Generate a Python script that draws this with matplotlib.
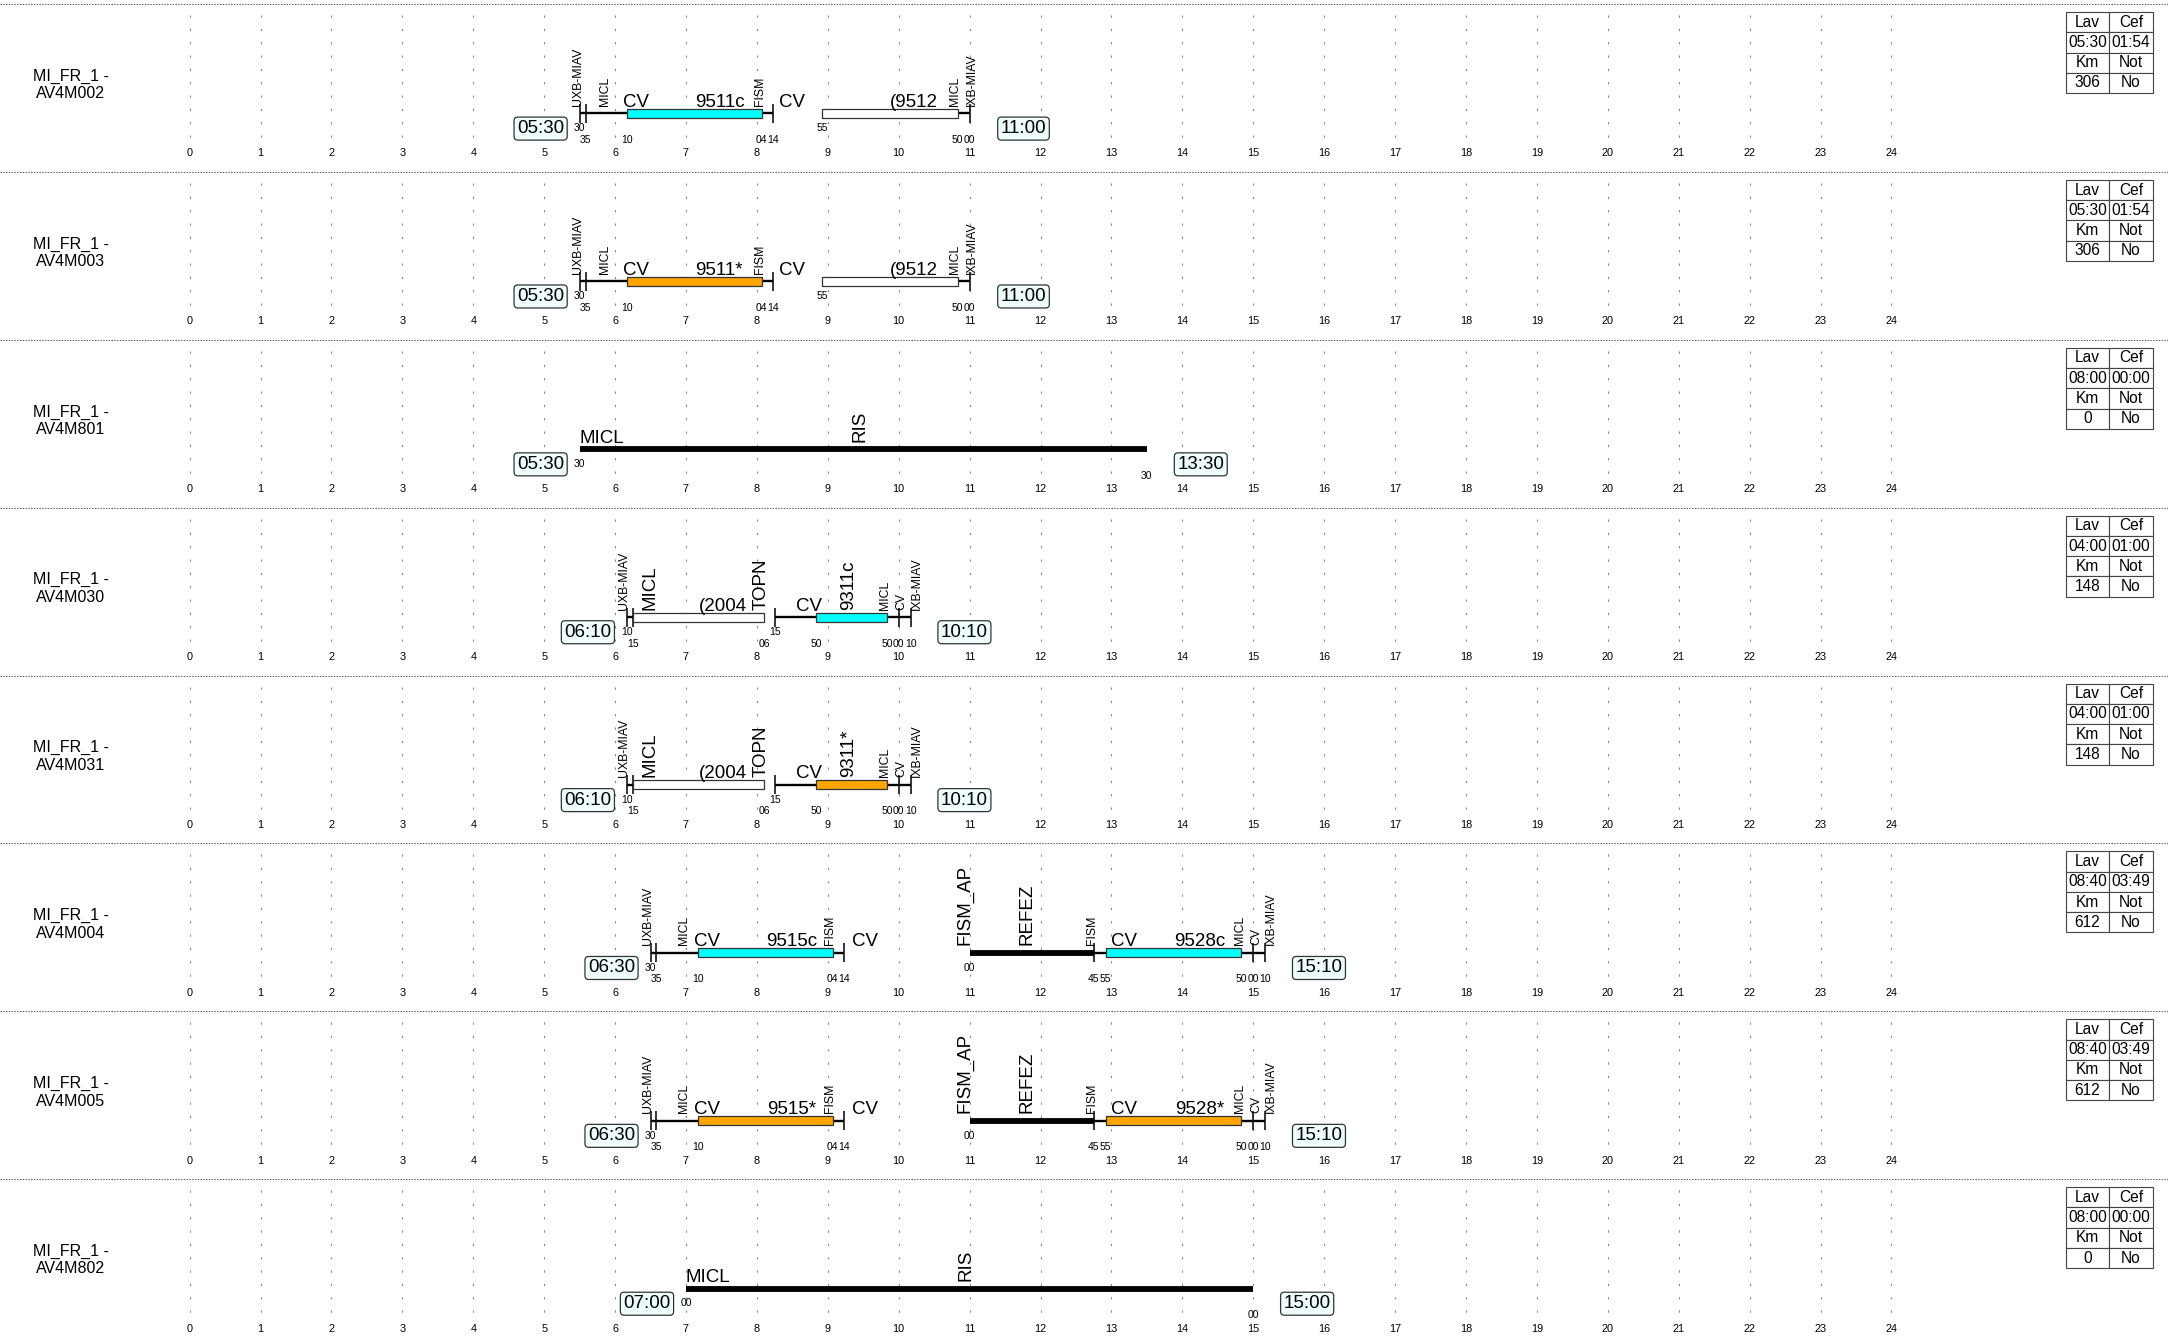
import matplotlib
matplotlib.use('Agg')
import matplotlib.pyplot as plt

plt.rcParams['font.family'] = ['Liberation Sans', 'DejaVu Sans']
plt.rcParams['lines.scale_dashes'] = False

# one row per duty
duties = ['MI_FR_1 -\nAV4M002', 'MI_FR_1 -\nAV4M003', 'MI_FR_1 -\nAV4M801', 'MI_FR_1 -\nAV4M030',
          'MI_FR_1 -\nAV4M031', 'MI_FR_1 -\nAV4M004', 'MI_FR_1 -\nAV4M005', 'MI_FR_1 -\nAV4M802']
start_times = ['05:30', '05:30', '05:30', '06:10', '06:10', '06:30', '06:30', '07:00']
end_times = ['11:00', '11:00', '13:30', '10:10', '10:10', '15:10', '15:10', '15:00']

# summary table on the right
lav = ['05:30', '05:30', '08:00', '04:00', '04:00', '08:40', '08:40', '08:00']
cef = ['01:54', '01:54', '00:00', '01:00', '01:00', '03:49', '03:49', '00:00']
km = ['306', '306', '0', '148', '148', '612', '612', '0']
notte = ['No', 'No', 'No', 'No', 'No', 'No', 'No', 'No']

# pieces of each duty: (from, to, kind)
pieces = [
    [('05:30', '06:10', 'line'), ('06:10', '08:04', 'cyan'), ('08:04', '08:14', 'line'),
     ('08:55', '10:50', 'white'), ('10:50', '11:00', 'line')],
    [('05:30', '06:10', 'line'), ('06:10', '08:04', 'orange'), ('08:04', '08:14', 'line'),
     ('08:55', '10:50', 'white'), ('10:50', '11:00', 'line')],
    [('05:30', '13:30', 'thick')],
    [('06:10', '06:15', 'line'), ('06:15', '08:06', 'white'), ('08:15', '08:50', 'line'),
     ('08:50', '09:50', 'cyan'), ('09:50', '10:10', 'line')],
    [('06:10', '06:15', 'line'), ('06:15', '08:06', 'white'), ('08:15', '08:50', 'line'),
     ('08:50', '09:50', 'orange'), ('09:50', '10:10', 'line')],
    [('06:30', '07:10', 'line'), ('07:10', '09:04', 'cyan'), ('09:04', '09:14', 'line'),
     ('11:00', '12:45', 'thick'), ('12:45', '12:55', 'line'), ('12:55', '14:50', 'cyan'),
     ('14:50', '15:10', 'line')],
    [('06:30', '07:10', 'line'), ('07:10', '09:04', 'orange'), ('09:04', '09:14', 'line'),
     ('11:00', '12:45', 'thick'), ('12:45', '12:55', 'line'), ('12:55', '14:50', 'orange'),
     ('14:50', '15:10', 'line')],
    [('07:00', '15:00', 'thick')],
]

# vertical stop marks
stops = [
    ['05:30', '05:35', '08:14', '11:00'],
    ['05:30', '05:35', '08:14', '11:00'],
    [],
    ['06:10', '06:15', '08:15', '10:00', '10:10'],
    ['06:10', '06:15', '08:15', '10:00', '10:10'],
    ['06:30', '06:35', '09:14', '12:45', '15:00', '15:10'],
    ['06:30', '06:35', '09:14', '12:45', '15:00', '15:10'],
    [],
]

# minute marks under the bars: (time, 'u' upper / 'l' lower)
minutes = [
    [('05:30', 'u'), ('05:35', 'l'), ('06:10', 'l'), ('08:04', 'l'), ('08:14', 'l'),
     ('08:55', 'u'), ('10:50', 'l'), ('11:00', 'l')],
    [('05:30', 'u'), ('05:35', 'l'), ('06:10', 'l'), ('08:04', 'l'), ('08:14', 'l'),
     ('08:55', 'u'), ('10:50', 'l'), ('11:00', 'l')],
    [('05:30', 'u'), ('13:30', 'l')],
    [('06:10', 'u'), ('06:15', 'l'), ('08:06', 'l'), ('08:15', 'u'), ('08:50', 'l'),
     ('09:50', 'l'), ('10:00', 'l'), ('10:10', 'l')],
    [('06:10', 'u'), ('06:15', 'l'), ('08:06', 'l'), ('08:15', 'u'), ('08:50', 'l'),
     ('09:50', 'l'), ('10:00', 'l'), ('10:10', 'l')],
    [('06:30', 'u'), ('06:35', 'l'), ('07:10', 'l'), ('09:04', 'l'), ('09:14', 'l'),
     ('11:00', 'u'), ('12:45', 'l'), ('12:55', 'l'), ('14:50', 'l'), ('15:00', 'l'), ('15:10', 'l')],
    [('06:30', 'u'), ('06:35', 'l'), ('07:10', 'l'), ('09:04', 'l'), ('09:14', 'l'),
     ('11:00', 'u'), ('12:45', 'l'), ('12:55', 'l'), ('14:50', 'l'), ('15:00', 'l'), ('15:10', 'l')],
    [('07:00', 'u'), ('15:00', 'l')],
]

# labels: (hour, text, kind) big = horizontal, bigv = big rotated, small = small rotated
labels = [
    [(5.48, 'UXB-MIAV', 'small'), (5.86, 'MICL', 'small'), (6.30, 'CV', 'big'), (7.48, '9511c', 'big'),
     (8.04, 'FISM', 'small'), (8.50, 'CV', 'big'), (10.21, '(9512', 'big'), (10.80, 'MICL', 'small'),
     (11.03, 'IXB-MIAV', 'small')],
    [(5.48, 'UXB-MIAV', 'small'), (5.86, 'MICL', 'small'), (6.30, 'CV', 'big'), (7.47, '9511*', 'big'),
     (8.04, 'FISM', 'small'), (8.50, 'CV', 'big'), (10.21, '(9512', 'big'), (10.80, 'MICL', 'small'),
     (11.03, 'IXB-MIAV', 'small')],
    [(5.81, 'MICL', 'big'), (9.45, 'RIS', 'bigv')],
    [(6.13, 'UXB-MIAV', 'small'), (6.49, 'MICL', 'bigv'), (7.52, '(2004', 'big'), (8.06, 'TOPN', 'bigv'),
     (8.73, 'CV', 'big'), (9.29, '9311c', 'bigv'), (9.81, 'MICL', 'small'), (10.04, 'CV', 'small'),
     (10.26, 'IXB-MIAV', 'small')],
    [(6.13, 'UXB-MIAV', 'small'), (6.49, 'MICL', 'bigv'), (7.52, '(2004', 'big'), (8.06, 'TOPN', 'bigv'),
     (8.73, 'CV', 'big'), (9.29, '9311*', 'bigv'), (9.81, 'MICL', 'small'), (10.04, 'CV', 'small'),
     (10.26, 'IXB-MIAV', 'small')],
    [(6.47, 'UXB-MIAV', 'small'), (6.97, 'MICL', 'small'), (7.30, 'CV', 'big'), (8.49, '9515c', 'big'),
     (9.03, 'FISM', 'small'), (9.53, 'CV', 'big'), (10.94, 'FISM_AP', 'bigv'), (11.81, 'REFEZ', 'bigv'),
     (12.72, 'FISM', 'small'), (13.18, 'CV', 'big'), (14.25, '9528c', 'big'), (14.81, 'MICL', 'small'),
     (15.04, 'CV', 'small'), (15.25, 'IXB-MIAV', 'small')],
    [(6.47, 'UXB-MIAV', 'small'), (6.97, 'MICL', 'small'), (7.30, 'CV', 'big'), (8.49, '9515*', 'big'),
     (9.03, 'FISM', 'small'), (9.53, 'CV', 'big'), (10.94, 'FISM_AP', 'bigv'), (11.81, 'REFEZ', 'bigv'),
     (12.72, 'FISM', 'small'), (13.18, 'CV', 'big'), (14.25, '9528*', 'big'), (14.81, 'MICL', 'small'),
     (15.04, 'CV', 'small'), (15.25, 'IXB-MIAV', 'small')],
    [(7.31, 'MICL', 'big'), (10.95, 'RIS', 'bigv')],
]

fill = {'cyan': '#00ffff', 'orange': '#ffa500', 'white': 'white'}


def hrs(t):
    h, m = t.split(':')
    return int(h) + int(m) / 60


n = len(duties)
row_h = 1343 / n
bar_y = 113.4

fig = plt.figure(figsize=(21.68, 13.43), dpi=100)

for i in range(n):
    ax = fig.add_axes([0, 1 - (i + 1) / n, 1, 1 / n])
    ax.set_xlim(-2.674, 27.90)
    ax.set_ylim(row_h, 0)
    ax.axis('off')

    # row separator and hour grid
    ax.axhline(4, color='#555555', lw=0.7, ls=(0, (1, 1)))
    ax.vlines(range(25), 15, 140, colors='#888888', lw=0.8, linestyles=[(0, (1.6, 8.0))])
    for h in range(25):
        ax.text(h, 153.4, str(h), ha='center', va='center', fontsize=7.8)

    # duty name
    ax.text(-1.68, 85, duties[i], ha='center', va='center', fontsize=11.5, linespacing=1.2)

    # pieces
    for t0, t1, kind in pieces[i]:
        a, b = hrs(t0), hrs(t1)
        if kind == 'line':
            ax.plot([a, b], [bar_y, bar_y], color='black', lw=1.7, solid_capstyle='butt', zorder=3)
        elif kind == 'thick':
            ax.plot([a, b], [bar_y, bar_y], color='black', lw=4.2, solid_capstyle='butt', zorder=3)
        else:
            ax.barh(bar_y, b - a, left=a, height=9, color=fill[kind], edgecolor='#333333',
                    lw=0.9, zorder=4)

    if stops[i]:
        ax.vlines([hrs(t) for t in stops[i]], bar_y - 9.5, bar_y + 9.5, colors='black', lw=1.1, zorder=3)

    for t, lev in minutes[i]:
        ax.text(hrs(t), 128.3 if lev == 'u' else 139.9, t[-2:], ha='center', va='center', fontsize=7.5)

    for x, txt, kind in labels[i]:
        if kind == 'big':
            ax.text(x, bar_y - 6.5, txt, ha='center', va='baseline', fontsize=13.5, zorder=5)
        elif kind == 'bigv':
            ax.text(x, bar_y - 7.5, txt, ha='center', va='bottom', rotation=90, fontsize=13.5, zorder=5)
        else:
            ax.text(x, bar_y - 7.5, txt, ha='center', va='bottom', rotation=90, fontsize=8.8, zorder=5)

    # start / end boxes
    box = dict(boxstyle='round,pad=0.16,rounding_size=0.2', fc='#eefefe', ec='#333333', lw=0.9)
    ax.text(hrs(start_times[i]) - 0.55, 128.6, start_times[i], ha='center', va='center',
            fontsize=13.5, bbox=box, zorder=6)
    ax.text(hrs(end_times[i]) + 0.76, 128.6, end_times[i], ha='center', va='center',
            fontsize=13.5, bbox=box, zorder=6)

    # summary table
    tb = ax.table(cellText=[['Lav', 'Cef'], [lav[i], cef[i]], ['Km', 'Not'], [km[i], notte[i]]],
                  cellLoc='center', bbox=[0.9529, 0.446, 0.0401, 0.482])
    tb.auto_set_font_size(False)
    tb.set_fontsize(11.2)
    for cell in tb.get_celld().values():
        cell.set_edgecolor('#444444')
        cell.set_linewidth(0.8)

plt.savefig('out.png', dpi=100)
